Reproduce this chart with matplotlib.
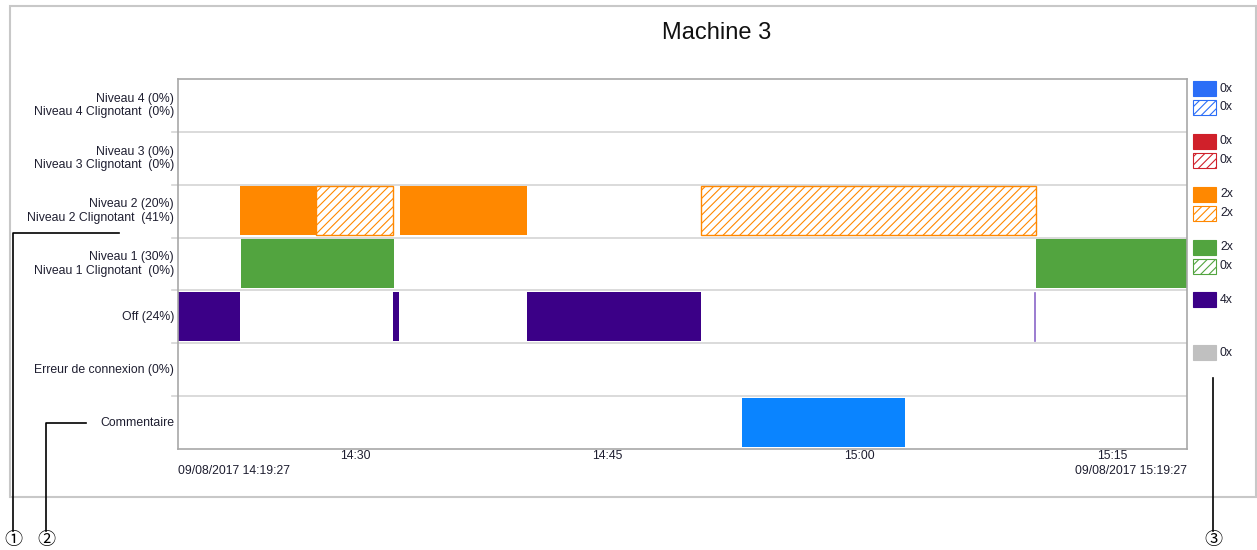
import matplotlib
matplotlib.use('Agg')
import matplotlib.pyplot as plt
from matplotlib.patches import Rectangle

plt.rcParams['font.family'] = ['Liberation Sans', 'DejaVu Sans']
plt.rcParams['hatch.linewidth'] = 0.8

# chart data (minutes after 14:19:27)
title = 'Machine 3'
start_label = '09/08/2017 14:19:27'
end_label = '09/08/2017 15:19:27'
start_min = 14 * 60 + 19 + 27 / 60
total_min = 60.0
tick_labels = ['14:30', '14:45', '15:00', '15:15']

row_labels = [
    'Niveau 4 (0%)\nNiveau 4 Clignotant  (0%)',
    'Niveau 3 (0%)\nNiveau 3 Clignotant  (0%)',
    'Niveau 2 (20%)\nNiveau 2 Clignotant  (41%)',
    'Niveau 1 (30%)\nNiveau 1 Clignotant  (0%)',
    'Off (24%)',
    'Erreur de connexion (0%)',
    'Commentaire',
]

niveau2_solid = [(3.69, 8.21), (13.20, 20.75)]
niveau2_blink = [(8.21, 12.78), (31.10, 51.02)]
niveau1_solid = [(3.75, 12.84), (51.02, 60.0)]
off_spans = [(0.0, 3.69), (12.78, 13.14), (20.75, 31.10)]
off_blip = [50.98]
comment_spans = [(33.54, 43.23)]

# legend: colour and counts per row (solid, blinking)
legend_colors = ['#2B6EF7', '#D0202A', '#FF8800', '#52A43F', '#3B0087', '#C0C0C0']
legend_solid = ['0x', '0x', '2x', '2x', '4x', '0x']
legend_blink = ['0x', '0x', '2x', '0x', None, None]

callout_marks = ['①', '②', '③']

orange = '#FF8800'
green = '#52A43F'
purple = '#3B0087'
blue = '#0A84FF'
txt = '#1E1E30'
fs = 8.8

W, H = 1257, 550
fig = plt.figure(figsize=(W / 100, H / 100), dpi=100)

# overlay axes in pixel coords for frame, legend and callouts
bg = fig.add_axes([0, 0, 1, 1])
bg.set_xlim(0, W)
bg.set_ylim(H, 0)
bg.axis('off')
bg.add_patch(Rectangle((10, 6), W - 11, 491, fill=False, ec='#C8C8C8', lw=1.5))

# main plot
x0, x1, y0, y1 = 178, 1187, 79, 449
ax = fig.add_axes([x0 / W, 1 - y1 / H, (x1 - x0) / W, (y1 - y0) / H])
nrows = len(row_labels)
ax.set_xlim(0, total_min)
ax.set_ylim(nrows, 0)
for s in ax.spines.values():
    s.set_color('#A8A8A8')
    s.set_linewidth(1.2)
ax.set_xticks([])
ax.set_yticks([])

for i in range(1, nrows):
    ax.axhline(i, color='#D4D4D4', lw=1.2, zorder=1)
    bg.plot([172, x0], [y0 + i * (y1 - y0) / nrows] * 2, color='#D4D4D4', lw=1.2)

def draw_spans(spans, row, color, hatched=False):
    for a, b in spans:
        if hatched:
            ax.add_patch(Rectangle((a, row + 0.03), b - a, 0.93, facecolor='white',
                                   edgecolor=color, hatch='////', lw=1, zorder=2))
        else:
            ax.add_patch(Rectangle((a, row + 0.03), b - a, 0.93, facecolor=color,
                                   edgecolor='none', zorder=2))

draw_spans(niveau2_solid, 2, orange)
draw_spans(niveau2_blink, 2, orange, hatched=True)
draw_spans(niveau1_solid, 3, green)
draw_spans(off_spans, 4, purple)
for t in off_blip:
    ax.plot([t, t], [4.05, 4.96], color='#8A66C8', lw=1.2, zorder=2)
draw_spans(comment_spans, 6, blue)

# row labels
row_h = (y1 - y0) / nrows
for i, lab in enumerate(row_labels):
    bg.text(174, y0 + (i + 0.5) * row_h, lab, ha='right', va='center',
            fontsize=fs, color=txt, linespacing=1.15)

# time ticks
for lab in tick_labels:
    h, m = lab.split(':')
    t = int(h) * 60 + int(m) - start_min
    px = x0 + t / total_min * (x1 - x0)
    bg.text(px, 456, lab, ha='center', va='center', fontsize=fs, color=txt)
bg.text(x0, 471, start_label, ha='left', va='center', fontsize=fs, color=txt)
bg.text(x1, 471, end_label, ha='right', va='center', fontsize=fs, color=txt)

# title
bg.text(717, 33, title, ha='center', va='center', fontsize=17, color='#111111')

# legend
for i, (c, s1, s2) in enumerate(zip(legend_colors, legend_solid, legend_blink)):
    top = y0 + i * row_h + 2
    if s1 is not None:
        bg.add_patch(Rectangle((1193, top), 23, 15, facecolor=c, edgecolor=c, lw=0.8))
        bg.text(1220, top + 7.5, s1, ha='left', va='center', fontsize=fs, color=txt)
    if s2 is not None:
        bg.add_patch(Rectangle((1193, top + 19), 23, 15, facecolor='white', edgecolor=c,
                               hatch='////', lw=0.8))
        bg.text(1220, top + 26.5, s2, ha='left', va='center', fontsize=fs, color=txt)

# callouts
bg.plot([119, 13, 13], [233, 233, 531], color='black', lw=1.2)
bg.plot([86, 46, 46], [423, 423, 531], color='black', lw=1.2)
bg.plot([1213, 1213], [378, 531], color='black', lw=1.2)
for x, s in zip([13, 46, 1213], callout_marks):
    bg.text(x, 540, s, ha='center', va='center', fontsize=13, color='black',
            family=['Noto Sans CJK JP', 'DejaVu Sans'])

fig.savefig('out.png', dpi=100)
